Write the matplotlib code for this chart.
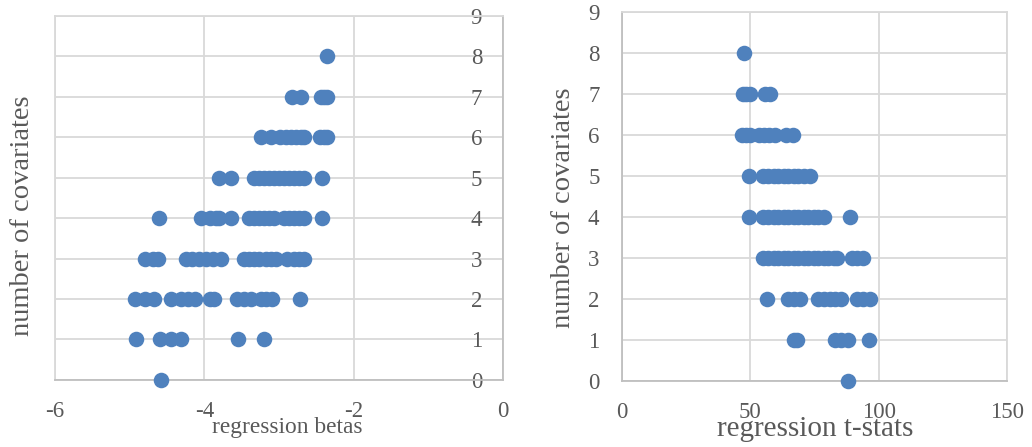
import matplotlib
matplotlib.use("Agg")
import matplotlib.pyplot as plt

# regression betas by number of covariates
BETAS = {
    8: [-2.36],
    7: [-2.83, -2.71, -2.44, -2.40, -2.36],
    6: [-3.24, -3.11, -2.98, -2.90, -2.84, -2.77, -2.70, -2.67, -2.45, -2.40, -2.36],
    5: [-3.80, -3.64, -3.33, -3.27, -3.20, -3.13, -3.07, -3.00, -2.93, -2.87,
        -2.80, -2.73, -2.67, -2.43],
    4: [-4.61, -4.05, -3.93, -3.84, -3.80, -3.64, -3.40, -3.33, -3.27, -3.20,
        -3.13, -3.07, -2.93, -2.87, -2.80, -2.73, -2.67, -2.43],
    3: [-4.80, -4.69, -4.62, -4.24, -4.16, -4.07, -3.98, -3.89, -3.78, -3.47,
        -3.40, -3.33, -3.27, -3.18, -3.11, -3.04, -2.89, -2.80, -2.73, -2.67],
    2: [-4.93, -4.80, -4.68, -4.44, -4.31, -4.22, -4.13, -3.93, -3.87, -3.56,
        -3.47, -3.38, -3.24, -3.18, -3.09, -2.72],
    1: [-4.92, -4.59, -4.44, -4.31, -3.55, -3.20],
    0: [-4.58],
}

# regression t-stats by number of covariates
TSTATS = {
    8: [47.8],
    7: [47.1, 48.5, 50.0, 55.6, 57.8],
    6: [47.0, 48.5, 50.0, 53.6, 55.5, 57.5, 59.7, 64.0, 66.6],
    5: [49.4, 55.2, 57.1, 59.1, 61.0, 63.0, 64.9, 66.9, 68.8, 70.8, 73.4],
    4: [49.4, 55.2, 57.1, 59.1, 61.0, 63.0, 64.9, 66.9, 68.8, 70.8, 72.7,
        74.7, 76.6, 78.8, 89.0],
    3: [55.2, 57.1, 59.1, 61.0, 63.0, 64.9, 66.9, 68.8, 70.8, 72.7, 74.7,
        76.6, 78.6, 80.5, 82.5, 83.8, 89.6, 91.6, 93.8],
    2: [56.5, 64.7, 66.9, 69.5, 76.4, 78.6, 81.2, 83.1, 85.3, 91.6, 93.9, 96.5],
    1: [66.9, 68.2, 83.1, 85.3, 88.1, 96.4],
    0: [88.1],
}

BLUE = '#4f81bd'
TEXT = '#595959'
GRID = '#d9d9d9'
AXIS = '#bfbfbf'
FONT = 'Liberation Serif'

plt.rcParams['font.family'] = FONT
plt.rcParams['axes.unicode_minus'] = False


def flatten(d):
    xs, ys = [], []
    for k, vals in d.items():
        for v in vals:
            xs.append(v)
            ys.append(k)
    return xs, ys


def style(ax):
    ax.set_axisbelow(True)
    ax.grid(True, color=GRID, linewidth=1.3)
    for s in ax.spines.values():
        s.set_color(GRID)
        s.set_linewidth(1.3)
    ax.spines['bottom'].set_color(AXIS)
    ax.set_ylim(0, 9)
    ax.set_yticks(range(10))
    ax.tick_params(length=0, labelsize=16.5, labelcolor=TEXT)


fig = plt.figure(figsize=(10.32, 4.47), dpi=100)

# left: betas
ax1 = fig.add_axes([0.0533, 0.150, 0.4341, 0.815])
x, y = flatten(BETAS)
ax1.scatter(x, y, s=125, color=BLUE, zorder=3, clip_on=False, linewidths=0)
ax1.set_xlim(-6, 0)
ax1.set_xticks([-6, -4, -2, 0])
style(ax1)
ax1.spines['right'].set_color(AXIS)
ax1.yaxis.tick_right()
ax1.tick_params(axis='y', pad=-15)
for lab in ax1.get_yticklabels():
    lab.set_horizontalalignment('right')
ax1.tick_params(axis='x', pad=15)

# right: t-stats
ax2 = fig.add_axes([0.6024, 0.148, 0.3734, 0.8245])
x, y = flatten(TSTATS)
ax2.scatter(x, y, s=125, color=BLUE, zorder=3, clip_on=False, linewidths=0)
ax2.set_xlim(0, 150)
ax2.set_xticks([0, 50, 100, 150])
style(ax2)
ax2.spines['left'].set_color(AXIS)
ax2.tick_params(axis='y', pad=16)
ax2.tick_params(axis='x', pad=15)

fig.text(287 / 1032, 1 - 428 / 447, 'regression betas', ha='center', va='center',
         fontsize=16.8, color=TEXT)
fig.text(815 / 1032, 1 - 429 / 447, 'regression t-stats', ha='center', va='center',
         fontsize=21, color=TEXT)
fig.text(23 / 1032, 1 - 216 / 447, 'number of covariates', ha='center', va='center',
         rotation=90, fontsize=20.5, color=TEXT)
fig.text(563 / 1032, 1 - 208 / 447, 'number of covariates', ha='center', va='center',
         rotation=90, fontsize=20.5, color=TEXT)

fig.savefig('out.png', dpi=100)
